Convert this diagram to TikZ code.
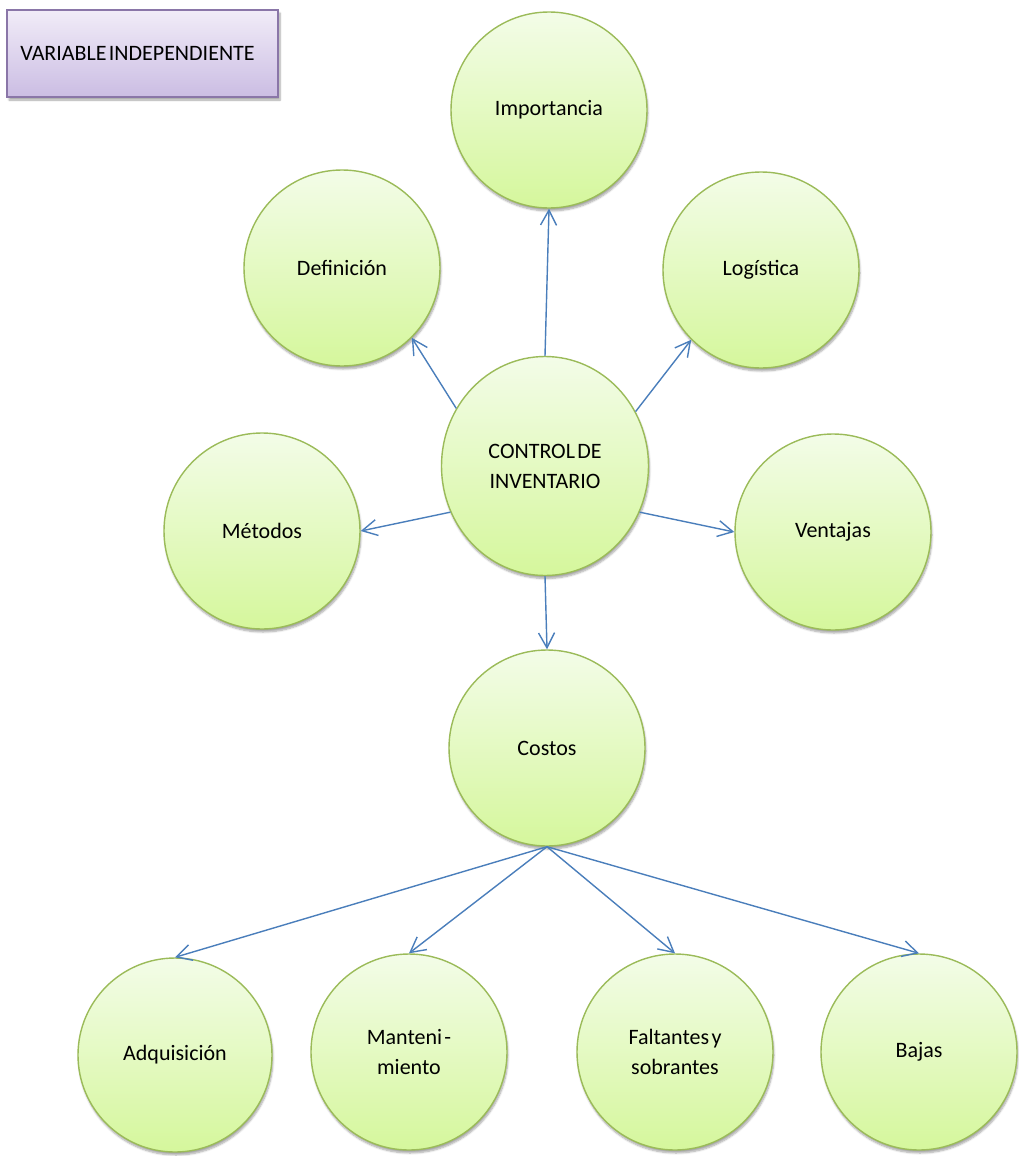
\documentclass[tikz,border=0pt]{standalone}
\usepackage{fontspec}
\setmainfont{Carlito}[WordSpace=0.45]
\usetikzlibrary{arrows.meta,shapes.geometric,shadows.blur}
\definecolor{ctop}{HTML}{F3FCE8}
\definecolor{cbot}{HTML}{D5F79C}
\definecolor{cline}{HTML}{9BBB59}
\definecolor{btop}{HTML}{F1ECF8}
\definecolor{bbot}{HTML}{CBBDE3}
\definecolor{bline}{HTML}{8A76A8}
\definecolor{aline}{HTML}{4A7EBB}
\tikzset{
  bubble/.style={circle, draw=cline, line width=1.4pt, top color=ctop, bottom color=cbot,
    minimum size=196pt, inner sep=0pt, align=center,
    font=\fontsize{22}{30}\selectfont,
    blur shadow={shadow xshift=1pt, shadow yshift=-3pt, shadow opacity=35, shadow blur steps=6}},
  titlebox/.style={rectangle, draw=bline, line width=1.2pt, top color=btop, bottom color=bbot,
    minimum width=271pt, minimum height=87pt, inner sep=0pt,
    font=\fontsize{22}{30}\selectfont,
    blur shadow={shadow xshift=2pt, shadow yshift=-3pt, shadow opacity=35, shadow blur steps=6}},
  link/.style={draw=aline, line width=1.4pt, -{Straight Barb[length=15pt,width=16pt]}}
}
\begin{document}
\begin{tikzpicture}[x=1pt,y=-1pt]
\useasboundingbox (0,0) rectangle (1018,1156);
\node[titlebox] (var) at (142.5,53.5) {\hspace*{-10pt}VARIABLE INDEPENDIENTE};
\node[bubble, ellipse, minimum width=207pt, minimum height=219pt] (ctrl) at (545,466) {CONTROL DE\\INVENTARIO};
\node[bubble] (imp) at (549,110) {Importancia};
\node[bubble] (def) at (342,268) {Definición};
\node[bubble] (log) at (761,270) {Logística};
\node[bubble] (met) at (262,531) {Métodos};
\node[bubble] (ven) at (833,532) {Ventajas};
\node[bubble] (cos) at (547,748) {Costos};
\node[bubble, minimum size=194pt] (adq) at (175,1055) {Adquisición};
\node[bubble] (man) at (409,1052) {Manteni -\\miento};
\node[bubble] (fal) at (675,1052) {Faltantes y\\sobrantes};
\node[bubble] (baj) at (919,1052) {Bajas};
\draw[link] (ctrl.90) -- (imp.-90);
\draw[link] (ctrl.147) -- (def.-45);
\draw[link] (ctrl.31) -- (log.-135);
\draw[link] (ctrl.206) -- (met.0);
\draw[link] (ctrl.-26) -- (ven.180);
\draw[link] (ctrl.-90) -- (cos.90);
\draw[link] (cos.-90) -- (adq.90);
\draw[link] (cos.-90) -- (man.90);
\draw[link] (cos.-90) -- (fal.90);
\draw[link] (cos.-90) -- (baj.90);
\end{tikzpicture}
\end{document}
